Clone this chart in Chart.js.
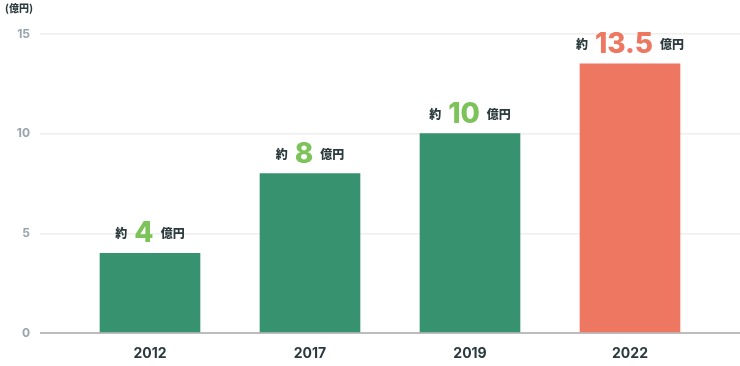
<!DOCTYPE html>
<html lang="ja">
<head>
    <meta charset="UTF-8">
    <title>市場規模の推移</title>
    <script src="https://cdn.jsdelivr.net/npm/chart.js"></script>
    <style>
        body {
            margin: 0;
            background: #fff;
        }

        .chart-wrap {
            position: relative;
            width: 740px;
            height: 366px;
        }
    </style>
</head>
<body>
    <div class="chart-wrap">
        <canvas id="marketChart"></canvas>
    </div>

    <script>
        const years = ['2012', '2017', '2019', '2022'];
        const values = [4, 8, 10, 13.5];
        const valueLabels = ['4', '8', '10', '13.5'];
        const yTicks = [0, 5, 10, 15];
        const unitLabel = '(億円)';

        const GREEN = '#37936f';
        const RED = '#ed7761';
        const LIGHT_GREEN = '#7cc35a';
        const DARK = '#2b3a3c';
        const JP_FONT = '"Noto Sans CJK JP", sans-serif';

        const barColors = values.map((v, i) => i === values.length - 1 ? RED : GREEN);
        const numColors = values.map((v, i) => i === values.length - 1 ? RED : LIGHT_GREEN);

        // draws "約 N 億円" above every bar, plus the unit at the top left
        const valueLabelPlugin = {
            id: 'valueLabels',
            afterDatasetsDraw(chart) {
                const ctx = chart.ctx;
                const meta = chart.getDatasetMeta(0);
                ctx.save();
                ctx.textBaseline = 'alphabetic';
                meta.data.forEach((bar, i) => {
                    const smallFont = '900 12px ' + JP_FONT;
                    const bigFont = '800 28px Inter, sans-serif';
                    ctx.font = smallFont;
                    const wPre = ctx.measureText('約').width;
                    const wPost = ctx.measureText('億円').width;
                    ctx.font = bigFont;
                    const wNum = ctx.measureText(valueLabels[i]).width;
                    const gap = 7;
                    const total = wPre + gap + wNum + gap + wPost;
                    let x = bar.x - total / 2;
                    const base = bar.y - 11;

                    ctx.textAlign = 'left';
                    ctx.font = smallFont;
                    ctx.fillStyle = DARK;
                    ctx.fillText('約', x, base - 4);
                    x += wPre + gap;
                    ctx.font = bigFont;
                    ctx.fillStyle = numColors[i];
                    ctx.fillText(valueLabels[i], x, base);
                    x += wNum + gap;
                    ctx.font = smallFont;
                    ctx.fillStyle = DARK;
                    ctx.fillText('億円', x, base - 4);
                });

                ctx.font = '900 10px ' + JP_FONT;
                ctx.fillStyle = DARK;
                ctx.textAlign = 'left';
                ctx.fillText(unitLabel, 5, 12);
                ctx.restore();
            }
        };

        const ctx = document.getElementById('marketChart').getContext('2d');
        new Chart(ctx, {
            type: 'bar',
            data: {
                datasets: [{
                    data: values.map((v, i) => ({ x: i, y: v })),
                    backgroundColor: barColors,
                    barThickness: 100
                }]
            },
            options: {
                responsive: true,
                maintainAspectRatio: false,
                animation: false,
                layout: {
                    padding: { top: 34, right: 0, left: 0, bottom: 0 }
                },
                plugins: {
                    legend: { display: false },
                    tooltip: { enabled: false }
                },
                scales: {
                    x: {
                        type: 'linear',
                        offset: false,
                        min: -0.6875,
                        max: years.length - 1 + 0.6875,
                        grid: { display: false, drawTicks: false, offset: false },
                        border: { display: false },
                        afterFit: (scale) => { scale.height = 33; },
                        ticks: {
                            stepSize: 1,
                            includeBounds: false,
                            autoSkip: false,
                            maxRotation: 0,
                            padding: 12,
                            color: DARK,
                            font: { family: 'Inter, sans-serif', size: 14, weight: 'bold' },
                            callback: (v) => Number.isInteger(v) && years[v] ? years[v] : ''
                        }
                    },
                    y: {
                        min: 0,
                        max: 15,
                        afterBuildTicks: (scale) => {
                            scale.ticks = yTicks.map(v => ({ value: v }));
                        },
                        afterFit: (scale) => { scale.width = 40; },
                        border: { display: false },
                        grid: {
                            drawTicks: false,
                            color: (c) => c.tick.value === 0 ? '#bdbdbd' : '#eeeeee',
                            lineWidth: (c) => c.tick.value === 0 ? 2 : 1.5
                        },
                        ticks: {
                            padding: 10,
                            color: '#97a3ad',
                            font: { family: 'Inter, sans-serif', size: 12, weight: 'bold' }
                        }
                    }
                }
            },
            plugins: [valueLabelPlugin]
        });
    </script>
</body>
</html>
